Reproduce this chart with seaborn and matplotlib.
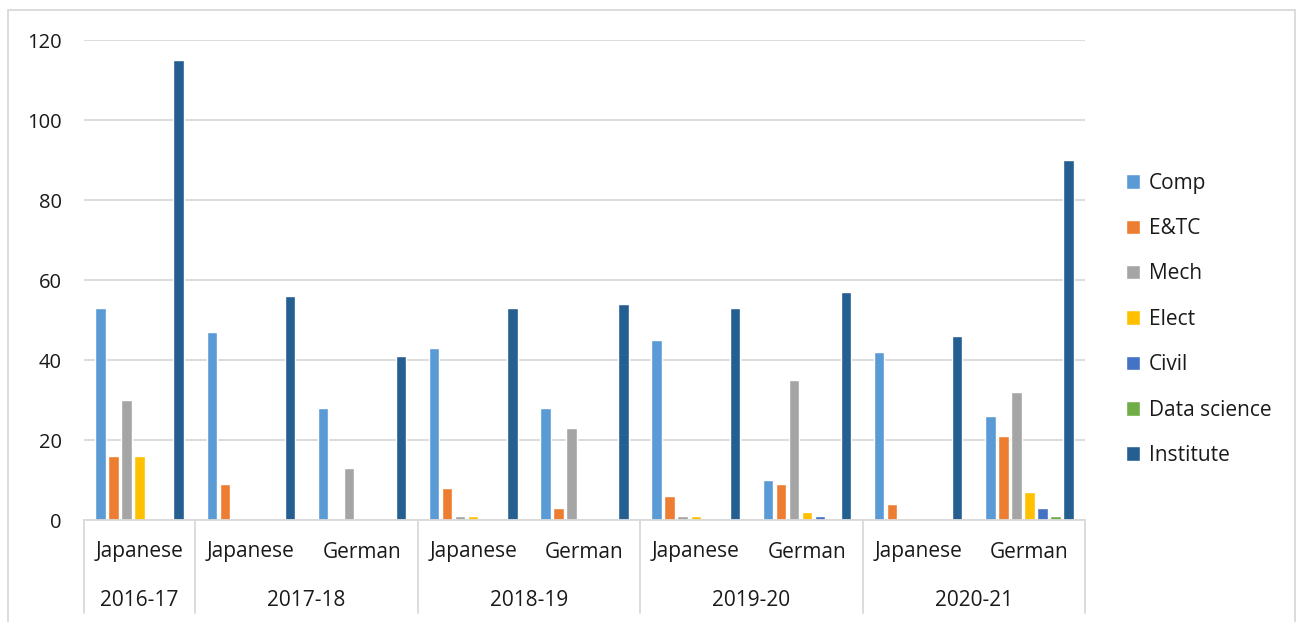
import matplotlib
matplotlib.use("Agg")
import matplotlib.pyplot as plt
import seaborn as sns
import pandas as pd
from matplotlib.lines import Line2D
from matplotlib.patches import Rectangle

years = ["2016-17", "2017-18", "2017-18", "2018-19", "2018-19",
         "2019-20", "2019-20", "2020-21", "2020-21"]
languages = ["Japanese", "Japanese", "German", "Japanese", "German",
             "Japanese", "German", "Japanese", "German"]
series = ["Comp", "E&TC", "Mech", "Elect", "Civil", "Data science", "Institute"]

comp = [53, 47, 28, 43, 28, 45, 10, 42, 26]
etc = [16, 9, 0, 8, 3, 6, 9, 4, 21]
mech = [30, 0, 13, 1, 23, 1, 35, 0, 32]
elect = [16, 0, 0, 1, 0, 1, 2, 0, 7]
civil = [0, 0, 0, 0, 0, 0, 1, 0, 3]
data_science = [0, 0, 0, 0, 0, 0, 0, 0, 1]
institute = [115, 56, 41, 53, 54, 53, 57, 46, 90]

colors = ["#5b9bd5", "#ed7d31", "#a5a5a5", "#ffc000", "#4472c4", "#70ad47", "#255e91"]

cats = [f"{y}|{l}" for y, l in zip(years, languages)]
values = [comp, etc, mech, elect, civil, data_science, institute]
rows = []
for name, vals in zip(series, values):
    for c, v in zip(cats, vals):
        rows.append({"cat": c, "series": name, "value": v})
df = pd.DataFrame(rows)

sns.set_style("white")
plt.rcParams["font.family"] = ["Open Sans", "DejaVu Sans"]

fig = plt.figure(figsize=(12.96, 6.22), dpi=100)
ax = fig.add_axes([84 / 1296, 1 - 520 / 622, (1085 - 84) / 1296, 480 / 622])

sns.barplot(data=df, x="cat", y="value", hue="series", order=cats,
            hue_order=series, palette=colors, width=0.82, gap=0.2,
            saturation=1, ax=ax, legend=True, errorbar=None)

ax.set_ylim(0, 120)
ax.set_xlim(-0.5, len(cats) - 0.5)
ax.set_yticks(range(0, 121, 20))
ax.yaxis.grid(True, color="#d9d9d9", linewidth=1.3)
ax.set_axisbelow(True)
for s in ["top", "right", "left"]:
    ax.spines[s].set_visible(False)
ax.spines["bottom"].set_color("#d9d9d9")
ax.spines["bottom"].set_linewidth(1.3)
ax.tick_params(axis="y", length=0, labelsize=14.5, pad=16, colors="#1a1a1a")
ax.set_xticks([])
ax.set_xlabel("")
ax.set_ylabel("")

# two-level category axis
trans = ax.get_xaxis_transform()
for i, lang in enumerate(languages):
    ax.text(i, -32 / 480, lang, transform=trans, ha="center", va="center",
            fontsize=15, color="#1a1a1a")
bounds = [-0.5]
for i in range(1, len(years)):
    if years[i] != years[i - 1]:
        bounds.append(i - 0.5)
bounds.append(len(years) - 0.5)
for b in bounds:
    ax.add_line(Line2D([b, b], [0, -93 / 480], transform=trans, color="#d9d9d9",
                       linewidth=1.3, clip_on=False))
for a, b in zip(bounds[:-1], bounds[1:]):
    yr = years[int(a + 0.5)]
    ax.text((a + b) / 2, -80 / 480, yr, transform=trans, ha="center", va="center",
            fontsize=15, color="#1a1a1a")

handles, labels = ax.get_legend_handles_labels()
ax.legend(handles, labels, loc="center left", bbox_to_anchor=(1.022, 0.418),
          frameon=False, fontsize=15, handlelength=0.7, handleheight=0.7,
          handletextpad=0.4, labelspacing=1.17, labelcolor="#1a1a1a")

fig.patches.append(Rectangle((8 / 1296, -0.1), (1295 - 8) / 1296, 1.1 - 10 / 622,
                             transform=fig.transFigure, fill=False,
                             edgecolor="#d9d9d9", linewidth=1.3))

fig.savefig("out.png", dpi=100)
